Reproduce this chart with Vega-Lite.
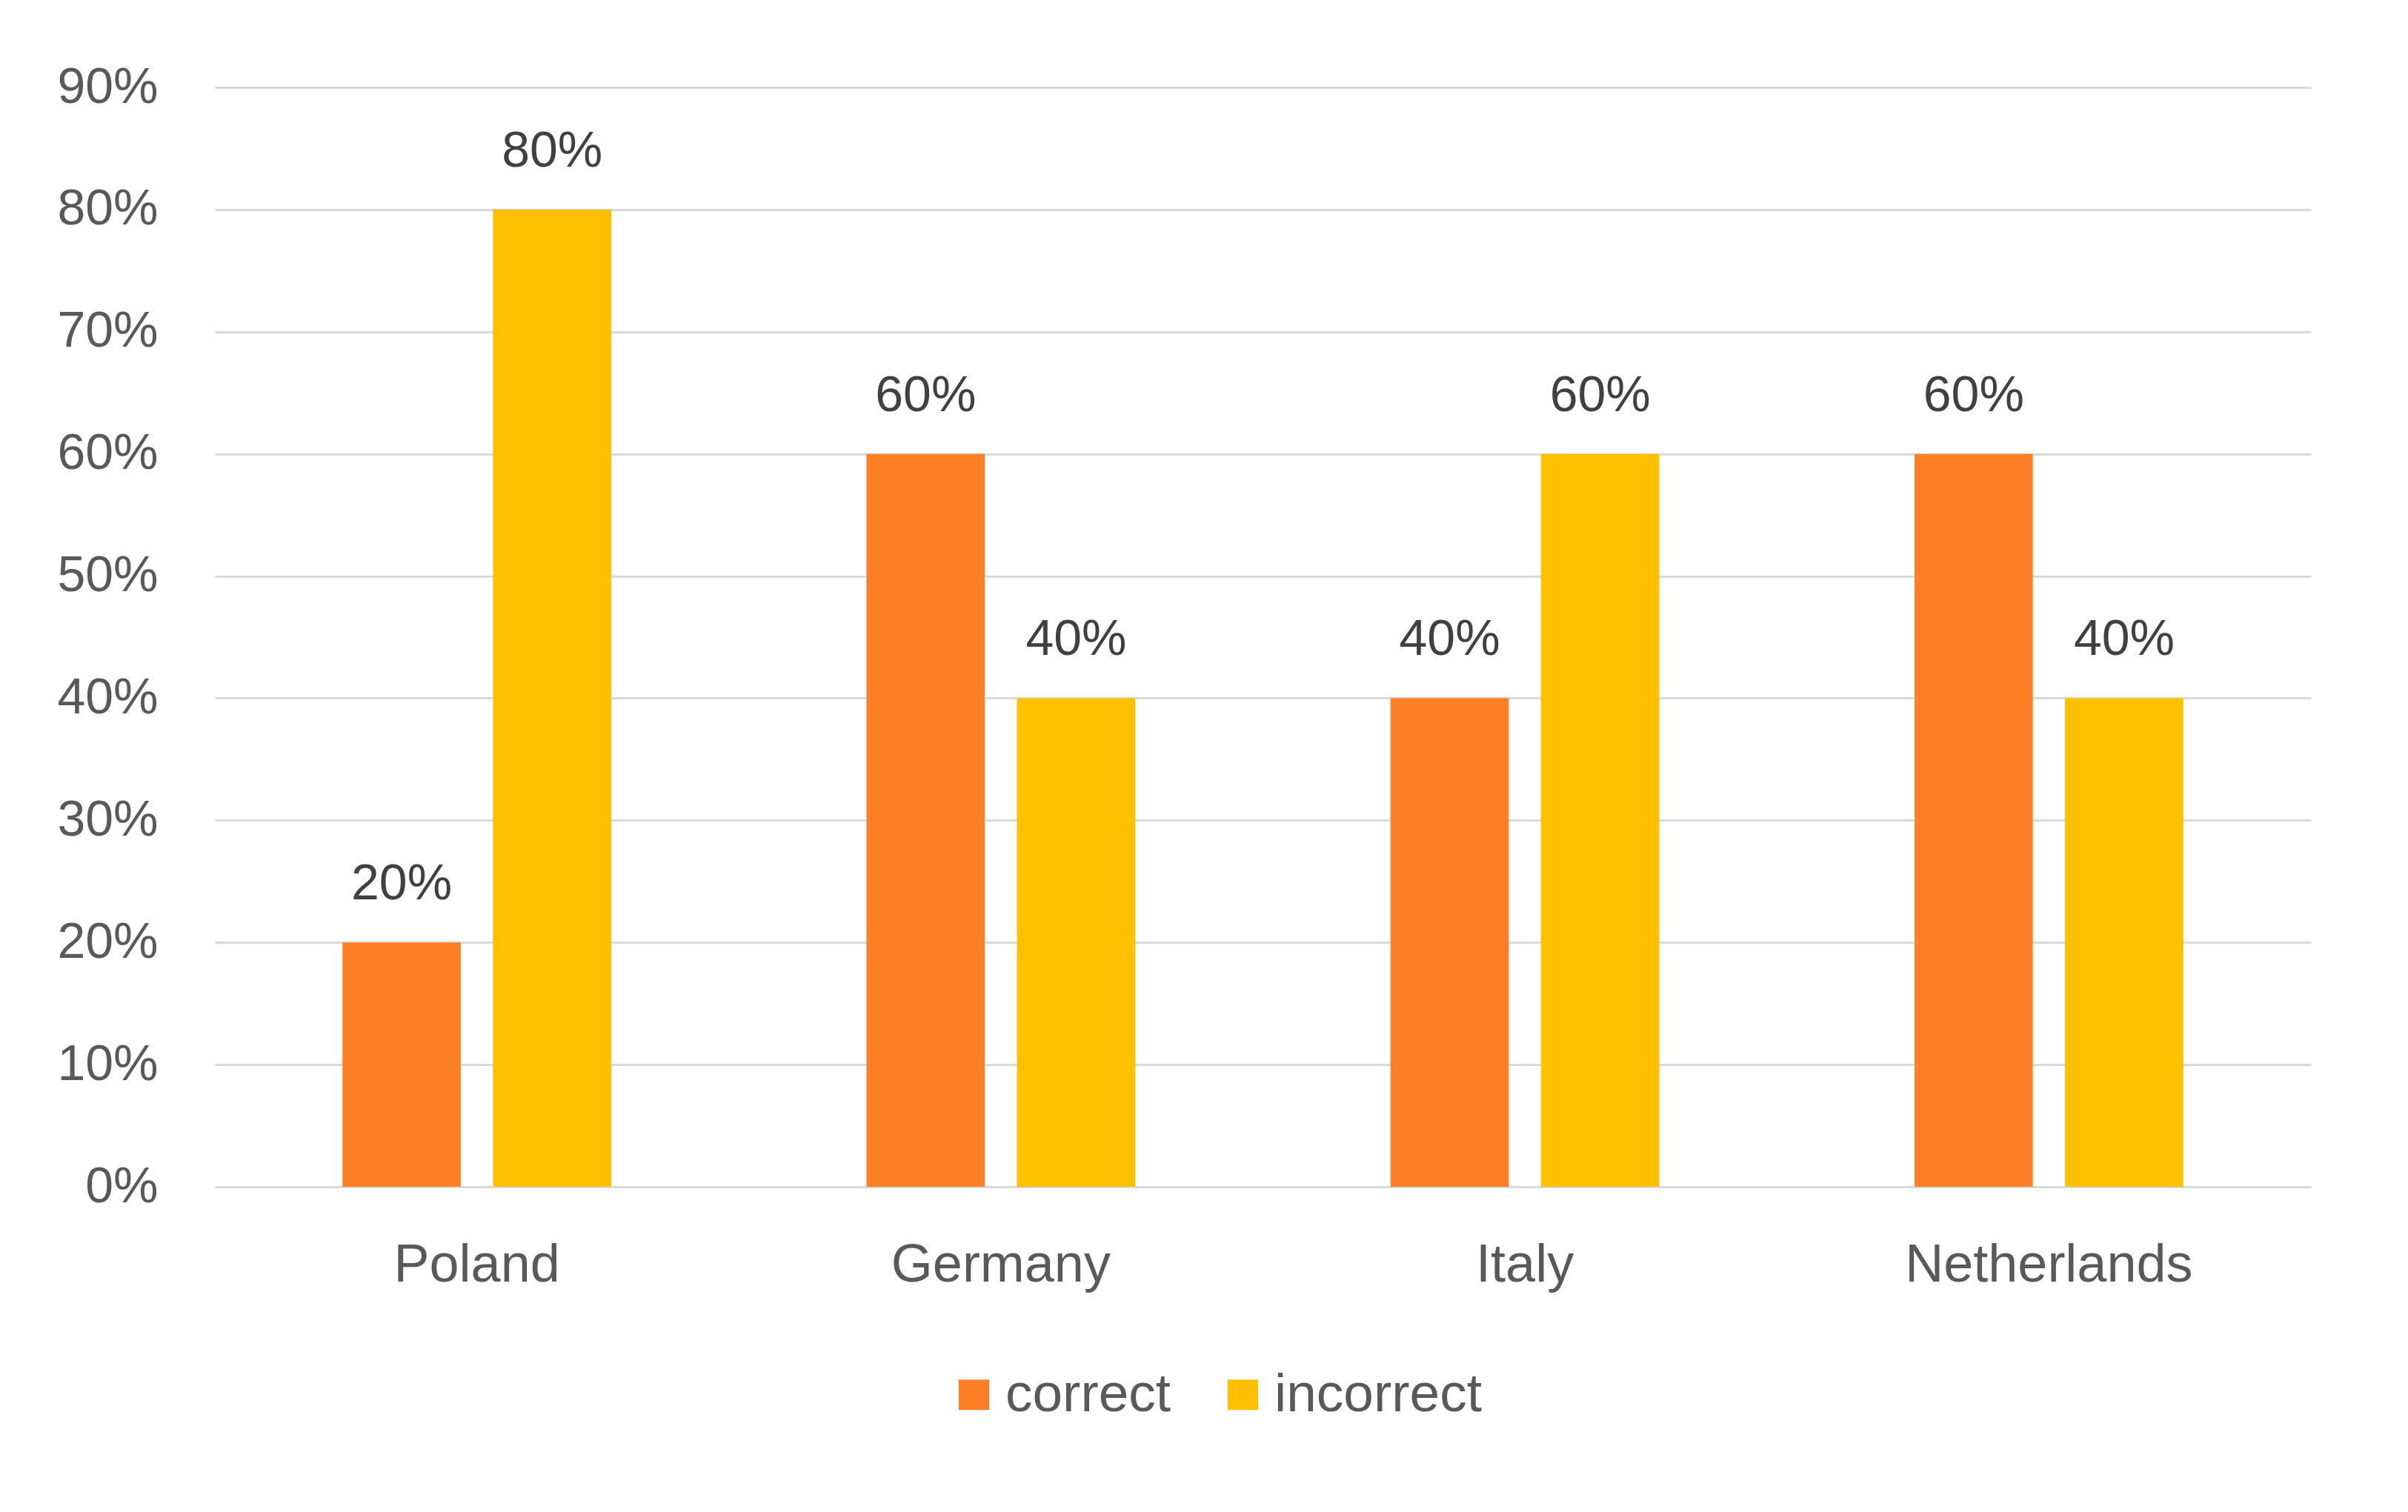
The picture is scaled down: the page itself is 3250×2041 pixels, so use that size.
{
  "$schema": "https://vega.github.io/schema/vega-lite/v6.json",
  "autosize": {"type": "none"},
  "width": 2829,
  "height": 1484,
  "padding": {"left": 290, "top": 118, "right": 131, "bottom": 439},
  "background": "white",
  "data": {
    "values": [
      {"country": "Poland", "answer": "correct", "share": 0.2},
      {"country": "Poland", "answer": "incorrect", "share": 0.8},
      {"country": "Germany", "answer": "correct", "share": 0.6},
      {"country": "Germany", "answer": "incorrect", "share": 0.4},
      {"country": "Italy", "answer": "correct", "share": 0.4},
      {"country": "Italy", "answer": "incorrect", "share": 0.6},
      {"country": "Netherlands", "answer": "correct", "share": 0.6},
      {"country": "Netherlands", "answer": "incorrect", "share": 0.4}
    ]
  },
  "encoding": {
    "x": {
      "field": "country",
      "type": "nominal",
      "sort": ["Poland", "Germany", "Italy", "Netherlands"],
      "scale": {"paddingInner": 0.487, "paddingOuter": 0.2435},
      "axis": {
        "title": null,
        "domain": false,
        "ticks": false,
        "grid": false,
        "labelAngle": 0,
        "labelLimit": 0,
        "labelFont": "Liberation Sans",
        "labelFontSize": 72,
        "labelColor": "#595959",
        "labelPadding": 70
      }
    },
    "xOffset": {
      "field": "answer",
      "type": "nominal",
      "sort": ["correct", "incorrect"],
      "scale": {"paddingInner": 0.214, "paddingOuter": 0}
    },
    "y": {
      "field": "share",
      "type": "quantitative",
      "scale": {"domain": [0, 0.9], "nice": false},
      "axis": {
        "title": null,
        "format": ".0%",
        "values": [0, 0.1, 0.2, 0.3, 0.4, 0.5, 0.6, 0.7, 0.8, 0.9],
        "domain": false,
        "ticks": false,
        "grid": true,
        "gridColor": "#d9d9d9",
        "gridWidth": 3,
        "labelFont": "Liberation Sans",
        "labelFontSize": 68,
        "labelColor": "#595959",
        "labelPadding": 77
      }
    }
  },
  "layer": [
    {
      "mark": {"type": "bar"},
      "encoding": {
        "color": {
          "field": "answer",
          "type": "nominal",
          "sort": ["correct", "incorrect"],
          "scale": {"domain": ["correct", "incorrect"], "range": ["#FF7F27", "#FFC000"]},
          "legend": {
            "title": null,
            "orient": "none",
            "direction": "horizontal",
            "legendX": 988,
            "legendY": 1728,
            "padding": 0,
            "symbolType": "square",
            "symbolSize": 1700,
            "symbolStrokeWidth": 0,
            "symbolOpacity": 1,
            "labelLimit": 0,
            "labelFont": "Liberation Sans",
            "labelFontSize": 73,
            "labelColor": "#595959",
            "labelOffset": 6,
            "columnPadding": 60
          }
        }
      }
    },
    {
      "mark": {
        "type": "text",
        "baseline": "alphabetic",
        "dy": -58,
        "font": "Liberation Sans",
        "fontSize": 68,
        "color": "#404040"
      },
      "encoding": {
        "text": {"field": "share", "type": "quantitative", "format": ".0%"}
      }
    }
  ],
  "config": {
    "view": {"stroke": null}
  }
}
